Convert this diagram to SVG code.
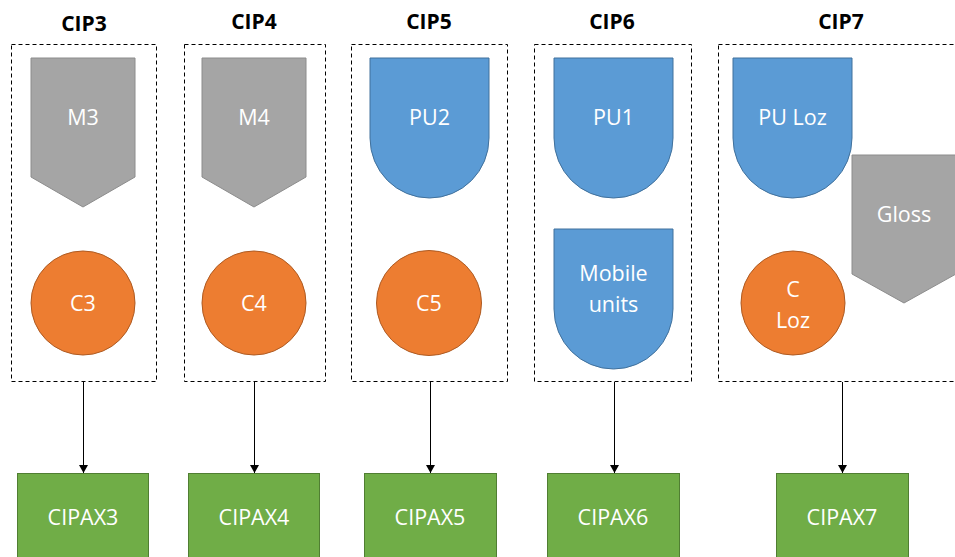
<svg xmlns="http://www.w3.org/2000/svg" width="955" height="557" viewBox="0 0 955 557">
<defs>
<style>
.title{font-family:"Open Sans","Liberation Sans",sans-serif;font-size:21px;font-weight:bold;fill:#000;text-anchor:middle}
.lbl{font-family:"Open Sans","Liberation Sans",sans-serif;font-size:21.5px;fill:#fff;text-anchor:middle}
.grp{fill:none;stroke:#000;stroke-width:1;stroke-dasharray:4 3}
.gray{fill:#A5A5A5;stroke:#8C8C8C;stroke-width:1}
.blue{fill:#5B9BD5;stroke:#41719C;stroke-width:1}
.orange{fill:#ED7D31;stroke:#AE5A21;stroke-width:1}
.green{fill:#70AD47;stroke:#507E32;stroke-width:1}
.conn{stroke:#000;stroke-width:1;fill:none}
</style>
<marker id="ah" markerWidth="9" markerHeight="9" refX="8" refY="4.5" orient="auto" markerUnits="userSpaceOnUse">
<path d="M0,0 L8,4.5 L0,9 Z" fill="#000"/>
</marker>
</defs>
<rect width="955" height="557" fill="#fff"/>

<g id="cip3">
<rect class="grp" x="11.5" y="44.5" width="145" height="337"/>
<text class="title" x="84" y="31">CIP3</text>
<g id="m3"><path class="gray" d="M31,58 H135 V177 L83,207 L31,177 Z"/><text class="lbl" x="83" y="125">M3</text></g>
<g id="c3"><circle class="orange" cx="83" cy="303" r="52"/><text class="lbl" x="83" y="311">C3</text></g>
</g>

<g id="cip4">
<rect class="grp" x="184.5" y="44.5" width="141" height="337"/>
<text class="title" x="254" y="29">CIP4</text>
<g id="m4"><path class="gray" d="M202,58 H306 V177 L254,207 L202,177 Z"/><text class="lbl" x="254" y="125">M4</text></g>
<g id="c4"><circle class="orange" cx="254" cy="303" r="52"/><text class="lbl" x="254" y="311">C4</text></g>
</g>

<g id="cip5">
<rect class="grp" x="351.5" y="44.5" width="156" height="337"/>
<text class="title" x="429" y="29">CIP5</text>
<g id="pu2"><path class="blue" d="M370,58 H489 V138 A59.5,60 0 0 1 370,138 Z"/><text class="lbl" x="429.5" y="125">PU2</text></g>
<g id="c5"><circle class="orange" cx="429" cy="303" r="52.5"/><text class="lbl" x="429" y="311">C5</text></g>
</g>

<g id="cip6">
<rect class="grp" x="534.5" y="44.5" width="157" height="337"/>
<text class="title" x="612" y="29">CIP6</text>
<g id="pu1"><path class="blue" d="M554,58 H673 V138 A59.5,60 0 0 1 554,138 Z"/><text class="lbl" x="613.5" y="125">PU1</text></g>
<g id="mobile"><path class="blue" d="M554,229 H673 V309 A59.5,60 0 0 1 554,309 Z"/><text class="lbl" x="613.5" y="281">Mobile</text><text class="lbl" x="613.5" y="312">units</text></g>
</g>

<g id="cip7">
<rect class="grp" x="718.5" y="44.5" width="250" height="337"/>
<text class="title" x="841" y="29">CIP7</text>
<g id="puloz"><path class="blue" d="M733,58 H852 V138 A59.5,60 0 0 1 733,138 Z"/><text class="lbl" x="792.5" y="125">PU Loz</text></g>
<g id="gloss"><path class="gray" d="M852,155 H956 V274 L904,303 L852,274 Z"/><text class="lbl" x="904" y="222">Gloss</text></g>
<g id="cloz"><circle class="orange" cx="793" cy="303" r="52"/><text class="lbl" x="793" y="297">C</text><text class="lbl" x="793" y="328">Loz</text></g>
</g>

<g id="cipax3"><rect class="green" x="17.5" y="473.5" width="131" height="90"/><text class="lbl" x="83" y="525">CIPAX3</text></g>
<g id="cipax4"><rect class="green" x="188.5" y="473.5" width="131" height="90"/><text class="lbl" x="254" y="525">CIPAX4</text></g>
<g id="cipax5"><rect class="green" x="364.5" y="473.5" width="132" height="90"/><text class="lbl" x="430" y="525">CIPAX5</text></g>
<g id="cipax6"><rect class="green" x="547.5" y="473.5" width="132" height="90"/><text class="lbl" x="613" y="525">CIPAX6</text></g>
<g id="cipax7"><rect class="green" x="776.5" y="473.5" width="132" height="90"/><text class="lbl" x="842" y="525">CIPAX7</text></g>

<g id="connectors">
<line class="conn" x1="83.5" y1="382" x2="83.5" y2="473" marker-end="url(#ah)"/>
<line class="conn" x1="254.5" y1="382" x2="254.5" y2="473" marker-end="url(#ah)"/>
<line class="conn" x1="430.5" y1="382" x2="430.5" y2="473" marker-end="url(#ah)"/>
<line class="conn" x1="614.5" y1="382" x2="614.5" y2="473" marker-end="url(#ah)"/>
<line class="conn" x1="842.5" y1="382" x2="842.5" y2="473" marker-end="url(#ah)"/>
</g>
</svg>
